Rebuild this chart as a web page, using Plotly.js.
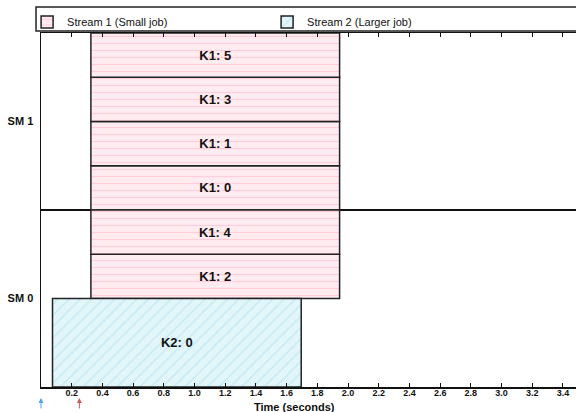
<!DOCTYPE html>
<html>
<head>
<meta charset="utf-8">
<script src="https://cdn.plot.ly/plotly-3.0.1.min.js"></script>
<style>html,body{margin:0;padding:0;background:#fff;}#chart{width:576px;height:412px;}</style>
</head>
<body>
<div id="chart"></div>
<script>
// ---- data ----
const smNames = ['SM 0', 'SM 1'];
const smIndex = [0, 1];
const lanesPerSM = 4;

// Stream 1 (small job): kernel K1 blocks
const s1Blocks = [0, 1, 2, 3, 4, 5];
const s1SM     = [1, 1, 0, 1, 0, 1];
const s1Lane   = [0, 1, 2, 2, 3, 3];
const s1Span   = [1, 1, 1, 1, 1, 1];
const s1Start  = [0.325, 0.325, 0.325, 0.325, 0.325, 0.325];
const s1End    = [1.945, 1.945, 1.945, 1.945, 1.945, 1.945];

// Stream 2 (larger job): kernel K2 blocks
const s2Blocks = [0];
const s2SM     = [0];
const s2Lane   = [0];
const s2Span   = [2];
const s2Start  = [0.075];
const s2End    = [1.695];

// stream launch times (arrows under the axis)
const launchTimes  = [0.0, 0.25];
const launchColors = ['#5b9fe0', '#d05a5a'];

const xTicks = [0.2,0.4,0.6,0.8,1.0,1.2,1.4,1.6,1.8,2.0,2.2,2.4,2.6,2.8,3.0,3.2,3.4];

// ---- helpers ----
const laneH = 1 / lanesPerSM;
function yCenter(sm, lane, span){ return sm - 0.5 + (lane + span/2) * laneH; }

function makeTrace(name, kname, blocks, sm, lane, span, start, end, bg, fg, shape, psize){
  return {
    type: 'bar', orientation: 'h', name: name,
    y: blocks.map((b,i)=>yCenter(sm[i], lane[i], span[i])),
    x: blocks.map((b,i)=>end[i]-start[i]),
    base: start,
    width: span.map(s=>s*laneH),
    text: blocks.map(b=>kname + ': ' + b),
    textposition: 'inside', insidetextanchor: 'middle', textangle: 0,
    constraintext: 'none',
    textfont: {family: 'Liberation Sans, Arial, sans-serif', size: 13, color: '#111', weight: 'bold'},
    marker: {
      color: bg,
      line: {color: '#222', width: 1.5},
      pattern: {shape: shape, fgcolor: fg, bgcolor: bg, size: psize, solidity: 0.18, fillmode: 'overlay'}
    },
    hoverinfo: 'skip'
  };
}

const traces = [
  makeTrace('Stream 1 (Small job)', 'K1', s1Blocks, s1SM, s1Lane, s1Span, s1Start, s1End, '#ffecf1', '#ffb0c2', '-', 7),
  makeTrace('Stream 2 (Larger job)', 'K2', s2Blocks, s2SM, s2Lane, s2Span, s2Start, s2End, '#e2f6fa', '#a6dbea', '/', 8)
];

const boundaries = smIndex.slice(1).map(s => s - 0.5);

const annotations = launchTimes.map((t,i)=>({
  x: t, xref: 'x', y: -0.031, yref: 'paper', text: '', showarrow: true,
  ax: 0, ay: 12, arrowhead: 2, arrowsize: 1, arrowwidth: 1, arrowcolor: launchColors[i]
}));
annotations.push({
  x: 0.473, xref: 'paper', y: -0.056, yref: 'paper', yanchor: 'middle', xanchor: 'center',
  text: '<b>Time (seconds)</b>', showarrow: false,
  font: {family: 'Liberation Sans, Arial, sans-serif', size: 11, color: '#111'}
});

const layout = {
  width: 576, height: 412,
  margin: {l: 41, r: 0, t: 33, b: 25, pad: 0, autoexpand: false},
  paper_bgcolor: '#fff', plot_bgcolor: '#fff',
  barmode: 'overlay',
  showlegend: true,
  font: {family: 'Liberation Sans, Arial, sans-serif', color: '#111'},
  legend: {
    orientation: 'h', xref: 'paper', yref: 'paper',
    x: -0.026, y: 1.072, xanchor: 'left', yanchor: 'top',
    entrywidth: 195, bgcolor: 'rgba(0,0,0,0)', borderwidth: 0,
    font: {size: 11, color: '#111'}, itemclick: false, traceorder: 'normal'
  },
  xaxis: {
    range: [0, 3.485], tickmode: 'array', tickvals: xTicks,
    ticktext: xTicks.map(v=>v.toFixed(1)),
    ticks: 'inside', ticklen: 4, tickwidth: 1, tickcolor: '#111',
    showline: true, linecolor: '#111', linewidth: 1.5, mirror: 'ticks',
    showgrid: false, zeroline: false, ticklabelstandoff: -3,
    tickfont: {size: 9, color: '#111', weight: 'bold'}
  },
  yaxis: {
    range: [-0.5, 1.5], tickmode: 'array', tickvals: smIndex, ticktext: smNames,
    ticks: '', showline: true, linecolor: '#111', linewidth: 1.5,
    showgrid: false, zeroline: false, ticklabelstandoff: 4,
    tickfont: {size: 11, color: '#111', weight: 'bold'},
    minor: {tickmode: 'array', tickvals: boundaries, showgrid: true, gridcolor: '#111', gridwidth: 1.5, ticks: ''}
  },
  shapes: [{
    type: 'rect', xref: 'paper', yref: 'paper',
    x0: -0.0093, x1: 1.02, y0: 1.0056, y1: 1.0734,
    line: {color: '#222', width: 1.5}, fillcolor: 'rgba(0,0,0,0)', layer: 'above'
  }],
  annotations: annotations
};

Plotly.newPlot('chart', traces, layout, {staticPlot: true, displayModeBar: false});
</script>
</body>
</html>
